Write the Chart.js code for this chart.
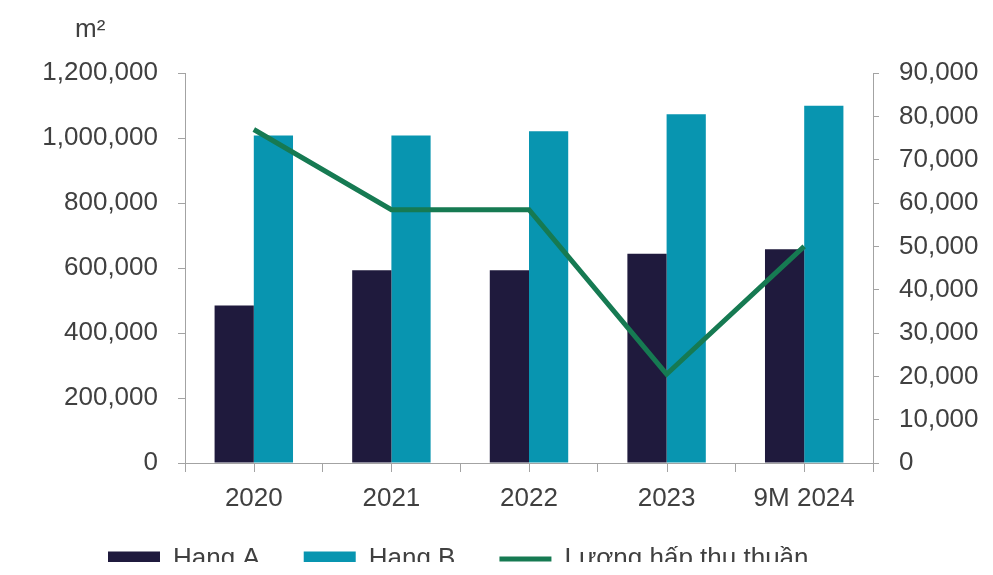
<!DOCTYPE html>
<html>
<head>
<meta charset="utf-8">
<script src="https://cdn.jsdelivr.net/npm/chart.js@4.4.1/dist/chart.umd.min.js"></script>
<style>
  html, body { margin: 0; padding: 0; background: #fff; overflow: hidden; }
  #wrap { position: relative; width: 100vw; height: 100vh; }
</style>
</head>
<body>
<div id="wrap"><canvas id="chart"></canvas></div>
<script>
const categories = ['2020', '2021', '2022', '2023', '9M 2024'];
const hangA = [485000, 593000, 593000, 644000, 658000];
const hangB = [1008000, 1008000, 1021000, 1074000, 1100000];
const absorption = [77000, 58500, 58500, 20500, 50000];
const seriesNames = ['Hạng A', 'Hạng B', 'Lượng hấp thụ thuần'];

const leftMax = 1200000, leftStep = 200000;
const rightMax = 90000, rightStep = 10000;

const navy = '#1f1a3d';
const teal = '#0895b0';
const green = '#167a52';
const axisColor = '#a3a3a3';
const textColor = '#404040';
const font = { family: "'Liberation Sans', Arial, sans-serif", size: 26, weight: 'normal' };

const fmt = (v) => v.toLocaleString('en-US');

// small fixes Chart.js has no option for: title/legend placement and center ticks on x axis
const tweaks = {
  id: 'tweaks',
  beforeLayout(chart) {
    const lg = chart.legend;
    if (lg && !lg._fixedFit) {
      const fit = lg.fit.bind(lg);
      lg.fit = function () { fit(); this.height = 60; };
      lg._fixedFit = true;
    }
  },
  afterLayout(chart) {
    chart.titleBlock.left = 75;
    const lg = chart.legend;
    const pad = lg.options.labels.padding;
    const curX = (lg.left + pad + lg.right - lg.lineWidths[0]) / 2;
    const dx = 108 - curX;
    lg.left += dx;
    lg.right += dx;
    const dy = (chart.height - 73) - lg.top;
    lg.top += dy;
    lg.bottom += dy;
  },
  afterDraw(chart) {
    const x = chart.scales.x;
    const ctx = chart.ctx;
    ctx.save();
    ctx.strokeStyle = axisColor;
    ctx.lineWidth = 1;
    categories.forEach((c, i) => {
      const px = Math.round(x.getPixelForValue(i)) + 0.5;
      ctx.beginPath();
      ctx.moveTo(px, x.top);
      ctx.lineTo(px, x.top + 9);
      ctx.stroke();
    });
    ctx.restore();
  }
};

new Chart(document.getElementById('chart'), {
  data: {
    labels: categories,
    datasets: [{
      type: 'bar',
      label: seriesNames[0],
      data: hangA,
      backgroundColor: navy,
      borderColor: navy,
      borderWidth: 0,
      yAxisID: 'y',
      order: 1
    }, {
      type: 'bar',
      label: seriesNames[1],
      data: hangB,
      backgroundColor: teal,
      borderColor: teal,
      borderWidth: 0,
      yAxisID: 'y',
      order: 1
    }, {
      type: 'line',
      label: seriesNames[2],
      data: absorption,
      borderColor: green,
      backgroundColor: green,
      borderWidth: 5,
      pointRadius: 0,
      tension: 0,
      yAxisID: 'y1',
      order: 0
    }]
  },
  options: {
    responsive: true,
    maintainAspectRatio: false,
    animation: false,
    events: [],
    layout: { padding: 0 },
    datasets: {
      bar: { categoryPercentage: 0.57, barPercentage: 1.0 }
    },
    plugins: {
      title: {
        display: true,
        text: 'm²',
        align: 'start',
        color: textColor,
        font: font,
        padding: { top: 14, bottom: 28 }
      },
      legend: {
        position: 'bottom',
        labels: {
          usePointStyle: true,
          pointStyleWidth: 52,
          boxHeight: 15,
          padding: 44,
          color: textColor,
          font: font,
          generateLabels(chart) {
            const items = Chart.defaults.plugins.legend.labels.generateLabels(chart);
            items.forEach((it) => {
              if (it.datasetIndex === 2) {
                it.pointStyle = 'line';
                it.strokeStyle = green;
                it.lineWidth = 5;
              } else {
                it.pointStyle = 'rect';
                it.lineWidth = 0;
              }
            });
            return items.sort((a, b) => a.datasetIndex - b.datasetIndex);
          }
        }
      },
      tooltip: { enabled: false }
    },
    scales: {
      x: {
        offset: true,
        grid: { offset: true, drawOnChartArea: false, tickLength: 9, tickColor: axisColor },
        border: { color: axisColor },
        ticks: { color: textColor, font: font, padding: 11, maxRotation: 0 },
        afterFit(scale) { scale.height = 52; }
      },
      y: {
        position: 'left',
        min: 0,
        max: leftMax,
        grid: { drawOnChartArea: false, tickLength: 7, tickColor: axisColor },
        border: { color: axisColor },
        ticks: { stepSize: leftStep, color: textColor, font: font, padding: 20, callback: fmt },
        afterFit(scale) { scale.width = 185; }
      },
      y1: {
        position: 'right',
        min: 0,
        max: rightMax,
        grid: { drawOnChartArea: false, tickLength: 6, tickColor: axisColor },
        border: { color: axisColor },
        ticks: { stepSize: rightStep, color: textColor, font: font, padding: 20, callback: fmt },
        afterFit(scale) { scale.width = 120; }
      }
    }
  },
  plugins: [tweaks]
});
</script>
</body>
</html>
